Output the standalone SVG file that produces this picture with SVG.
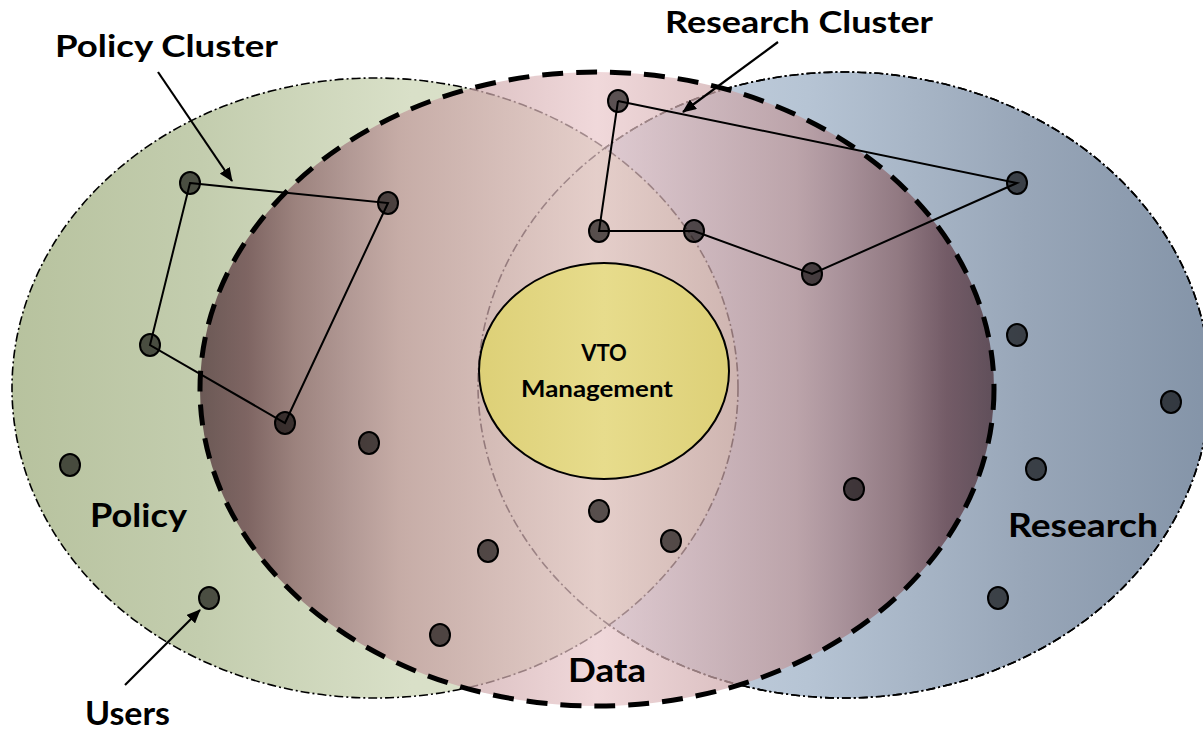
<svg xmlns="http://www.w3.org/2000/svg" width="1203" height="736" viewBox="0 0 1203 736">
  <style>
    .set { stroke: #000; stroke-width: 1.6; stroke-dasharray: 9 3 2 3; }
    .rim { fill: none; stroke: #000; stroke-width: 1.6; stroke-dasharray: 9 3 2 3; }
    .data { fill: url(#gData); fill-opacity: 0.7; stroke: none; }
    .dataEdge { fill: none; stroke: #000; stroke-width: 5; stroke-dasharray: 21 13; }
    .core { fill: url(#gCore); stroke: #000; stroke-width: 2; }
    .link { stroke: #000; stroke-width: 2; fill: none; }
    .user { fill: #000; fill-opacity: 0.62; stroke: #000; stroke-width: 2; }
    .callout { stroke: #000; stroke-width: 2.2; fill: none; marker-end: url(#head); }
    text { font-family: "Lato", "Liberation Sans", sans-serif; font-weight: bold; fill: #000; }
    .big { font-size: 31px; }
    .area { font-size: 33px; }
    .core-label { font-size: 22px; text-anchor: middle; }
  </style>
  <defs>
    <linearGradient id="gPolicy" x1="0" y1="0" x2="1" y2="0">
      <stop offset="0" stop-color="#b7c29e"/>
      <stop offset="0.26" stop-color="#c3cdae"/>
      <stop offset="0.55" stop-color="#d9e0c8"/>
      <stop offset="1" stop-color="#d8dcc8"/>
    </linearGradient>
    <linearGradient id="gResearch" x1="0" y1="0" x2="1" y2="0">
      <stop offset="0" stop-color="#d2deeb"/>
      <stop offset="0.45" stop-color="#b6c4d4"/>
      <stop offset="0.75" stop-color="#98a6b8"/>
      <stop offset="1" stop-color="#8494a8"/>
    </linearGradient>
    <linearGradient id="gData" x1="0" y1="0" x2="1" y2="0">
      <stop offset="0" stop-color="#462830"/>
      <stop offset="0.06" stop-color="#5f3740"/>
      <stop offset="0.12" stop-color="#875f64"/>
      <stop offset="0.19" stop-color="#a57e83"/>
      <stop offset="0.25" stop-color="#be9698"/>
      <stop offset="0.5" stop-color="#eac8cb"/>
      <stop offset="0.75" stop-color="#be9698"/>
      <stop offset="0.81" stop-color="#a57e83"/>
      <stop offset="0.88" stop-color="#875f64"/>
      <stop offset="0.94" stop-color="#5f3740"/>
      <stop offset="1" stop-color="#462830"/>
    </linearGradient>
    <linearGradient id="gCore" x1="0" y1="0" x2="1" y2="0">
      <stop offset="0" stop-color="#ddd077"/>
      <stop offset="0.5" stop-color="#e7dc8c"/>
      <stop offset="1" stop-color="#ddd077"/>
    </linearGradient>
    <marker id="head" viewBox="0 0 14 12" refX="13" refY="6" markerWidth="14" markerHeight="12" markerUnits="userSpaceOnUse" orient="auto">
      <path d="M0,0 L14,6 L0,12 Z" fill="#000"/>
    </marker>
  </defs>

  <!-- three overlapping areas: research below, policy above it, data on top -->
  <g id="research-area">
    <ellipse class="set" cx="844" cy="385" rx="366" ry="313" fill="url(#gResearch)"/>
  </g>
  <g id="policy-area">
    <ellipse class="set" cx="375" cy="388" rx="363" ry="310" fill="url(#gPolicy)"/>
  </g>
  <!-- research rim redrawn so both rims show through the data area -->
  <g id="research-rim">
    <ellipse class="rim" cx="844" cy="385" rx="366" ry="313"/>
  </g>
  <g id="data-area">
    <ellipse class="data" cx="597" cy="389" rx="397" ry="317"/>
    <ellipse class="dataEdge" cx="597" cy="389" rx="397" ry="317"/>
  </g>
  <g id="vto-management">
    <ellipse class="core" cx="604" cy="371" rx="125" ry="108"/>
    <text class="core-label" x="604" y="361">VTO</text>
    <text class="core-label" x="597" y="397" textLength="152" lengthAdjust="spacingAndGlyphs">Management</text>
  </g>

  <!-- cluster links and callouts -->
  <g id="connectors">
    <polygon class="link" points="190,183 388,203 285,423 150,345"/>
    <polyline class="link" points="618,101 1017,183 812,274 694,231 599,231 618,101"/>
    <line class="callout" x1="158" y1="72" x2="232" y2="181"/>
    <line class="callout" x1="778" y1="42" x2="683" y2="112"/>
    <line class="callout" x1="125" y1="685" x2="200" y2="610"/>
  </g>

  <!-- users -->
  <g id="users">
    <ellipse class="user" cx="190" cy="183" rx="10" ry="11"/>
    <ellipse class="user" cx="388" cy="203" rx="10" ry="11"/>
    <ellipse class="user" cx="150" cy="345" rx="10" ry="11"/>
    <ellipse class="user" cx="285" cy="423" rx="10" ry="11"/>
    <ellipse class="user" cx="369" cy="443" rx="10" ry="11"/>
    <ellipse class="user" cx="70" cy="465" rx="10" ry="11"/>
    <ellipse class="user" cx="209" cy="598" rx="10" ry="11"/>
    <ellipse class="user" cx="488" cy="551" rx="10" ry="11"/>
    <ellipse class="user" cx="440" cy="635" rx="10" ry="11"/>
    <ellipse class="user" cx="599" cy="511" rx="10" ry="11"/>
    <ellipse class="user" cx="671" cy="541" rx="10" ry="11"/>
    <ellipse class="user" cx="618" cy="101" rx="10" ry="11"/>
    <ellipse class="user" cx="599" cy="231" rx="10" ry="11"/>
    <ellipse class="user" cx="694" cy="231" rx="10" ry="11"/>
    <ellipse class="user" cx="812" cy="274" rx="10" ry="11"/>
    <ellipse class="user" cx="1017" cy="183" rx="10" ry="11"/>
    <ellipse class="user" cx="1017" cy="335" rx="10" ry="11"/>
    <ellipse class="user" cx="1171" cy="402" rx="10" ry="11"/>
    <ellipse class="user" cx="1036" cy="469" rx="10" ry="11"/>
    <ellipse class="user" cx="854" cy="489" rx="10" ry="11"/>
    <ellipse class="user" cx="998" cy="598" rx="10" ry="11"/>
  </g>

  <!-- labels -->
  <g id="labels">
    <text class="big" x="55" y="57" textLength="223" lengthAdjust="spacingAndGlyphs">Policy Cluster</text>
    <text class="big" x="665" y="33" textLength="268" lengthAdjust="spacingAndGlyphs">Research Cluster</text>
    <text class="area" x="90" y="527" textLength="97" lengthAdjust="spacingAndGlyphs">Policy</text>
    <text class="area" x="1008" y="537" textLength="150" lengthAdjust="spacingAndGlyphs">Research</text>
    <text class="area" x="568" y="682" textLength="78" lengthAdjust="spacingAndGlyphs">Data</text>
    <text class="area" x="85" y="725" textLength="85" lengthAdjust="spacingAndGlyphs">Users</text>
  </g>
</svg>
